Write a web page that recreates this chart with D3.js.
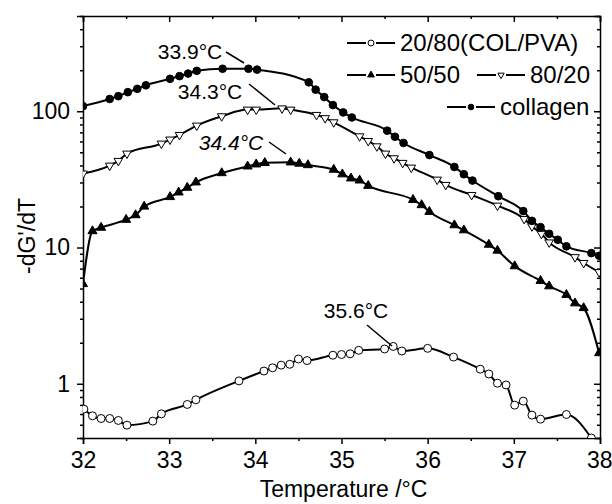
<!DOCTYPE html>
<html>
<head>
<meta charset="utf-8">
<script src="https://cdn.jsdelivr.net/npm/d3@7"></script>
<style>
  body { margin: 0; background: #fff; }
  svg { font-family: "Liberation Sans", Arial, sans-serif; }
  .axis path, .axis line { stroke: #000; stroke-width: 1.5; }
  .axis text { fill: #000; font-size: 23px; }
</style>
</head>
<body>
<div id="chart"></div>
<script>
// -dG'/dT vs temperature, log scale, four blends

const xTicks = [32, 33, 34, 35, 36, 37, 38];
const yTicks = [1, 10, 100];

// collagen (filled circles)
const colT = [32.0, 32.31, 32.41, 32.52, 32.63, 32.73, 33.01, 33.12, 33.22, 33.32, 33.62, 33.92, 34.02,
  34.62, 34.70, 34.80, 34.90, 35.02, 35.12, 35.53, 35.62, 35.72, 36.02, 36.31, 36.42, 36.52, 36.82,
  37.11, 37.21, 37.31, 37.41, 37.51, 37.61, 37.90, 37.99];
const colV = [109, 123, 129, 138, 146, 155, 173, 181, 189, 198, 205, 205, 202,
  163, 144, 127, 111, 98, 90, 72, 65, 58.5, 47.7, 39, 34.5, 31, 23.8,
  18.5, 15.7, 14.1, 12.6, 11.4, 10.2, 9.1, 8.7];

// 80/20 (open down triangles)
const t8020 = [32.0, 32.31, 32.41, 32.51, 32.91, 33.01, 33.12, 33.32, 33.61, 33.91, 34.01, 34.31, 34.41,
  34.71, 34.81, 34.91, 35.21, 35.31, 35.41, 35.51, 35.61, 35.71, 35.81, 36.11, 36.21, 36.51, 36.81,
  37.12, 37.21, 37.32, 37.41, 37.71, 37.81, 37.99];
const v8020 = [34.9, 39.9, 43.2, 48.9, 57.9, 62, 67, 78.5, 91.9, 102.8, 102.8, 105, 102.8,
  94, 89, 83, 65.5, 60.5, 55.3, 48.9, 45.2, 41.8, 38.6, 31.5, 28.8, 24.3, 20.3,
  16.2, 14.3, 12.6, 10.9, 8.5, 7.7, 6.6];

// 50/50 (filled up triangles)
const t5050 = [32.0, 32.11, 32.21, 32.5, 32.61, 32.71, 33.01, 33.11, 33.21, 33.31, 33.61, 33.91, 34.01,
  34.11, 34.41, 34.51, 34.61, 34.91, 35.01, 35.11, 35.21, 35.31, 35.83, 35.93, 36.02, 36.31, 36.42,
  36.71, 36.81, 37.01, 37.31, 37.41, 37.61, 37.71, 37.81, 37.99];
const v5050 = [5.4, 13.2, 14, 16, 17.3, 20, 23.5, 25.4, 27.5, 30.1, 35.2, 39.4, 40.8,
  41.8, 42.2, 41.3, 40.3, 37.3, 34.5, 32.2, 31.1, 28.4, 22.4, 20.5, 18.3, 14.6, 13.4,
  10.5, 9.5, 7.3, 5.7, 5.2, 4.5, 3.9, 3.6, 1.68];

// 20/80 COL/PVA (open circles)
const t2080 = [32.01, 32.11, 32.21, 32.31, 32.41, 32.51, 32.81, 32.91, 33.21, 33.31, 33.81, 34.1, 34.2,
  34.3, 34.4, 34.5, 34.6, 34.9, 35.0, 35.1, 35.2, 35.5, 35.6, 35.7, 36.0, 36.3, 36.61, 36.71, 36.81,
  36.91, 37.01, 37.11, 37.21, 37.31, 37.61, 37.9];
const v2080 = [0.652, 0.582, 0.556, 0.556, 0.538, 0.497, 0.532, 0.602, 0.705, 0.763, 1.05, 1.24, 1.31,
  1.37, 1.39, 1.52, 1.48, 1.62, 1.64, 1.66, 1.76, 1.8, 1.88, 1.74, 1.82, 1.57, 1.28, 1.18, 1.01,
  0.98, 0.697, 0.746, 0.589, 0.55, 0.595, 0.4];

// peak labels
const peakText = ['33.9°C', '34.3°C', '34.4°C', '35.6°C'];

const W = 612, H = 504;
const plot = { left: 83, right: 600, top: 16, bottom: 438 };

const svg = d3.select('#chart').append('svg').attr('width', W).attr('height', H);

const x = d3.scaleLinear().domain([32, 38]).range([plot.left, plot.right]);
const y = d3.scaleLog().domain([0.4, 500]).range([plot.bottom, plot.top]);

// minor tick values
const xMinor = d3.range(32.5, 38, 1);
const yMinor = [];
[0.1, 1, 10, 100].forEach(dec => {
  for (let k = 2; k <= 9; k++) {
    const v = +(k * dec).toFixed(3);
    if (v >= 0.4 && v <= 500) yMinor.push(v);
  }
});

// bottom axis (ticks out)
const xAxisG = svg.append('g').attr('class', 'axis').attr('transform', `translate(0,${plot.bottom})`)
  .call(d3.axisBottom(x).tickValues(xTicks).tickSize(6).tickPadding(8).tickFormat(d3.format('d')));
// last label sits against the page edge
xAxisG.selectAll('.tick text').filter(d => d === 38).attr('text-anchor', 'end').attr('x', 12);
svg.append('g').attr('class', 'axis').attr('transform', `translate(0,${plot.bottom})`)
  .call(d3.axisBottom(x).tickValues(xMinor).tickSize(3).tickFormat(''))
  .select('.domain').remove();
// top axis (ticks in)
svg.append('g').attr('class', 'axis').attr('transform', `translate(0,${plot.top})`)
  .call(d3.axisBottom(x).tickValues(xTicks).tickSize(6).tickFormat(''));
svg.append('g').attr('class', 'axis').attr('transform', `translate(0,${plot.top})`)
  .call(d3.axisBottom(x).tickValues(xMinor).tickSize(3).tickFormat(''))
  .select('.domain').remove();
// left axis (ticks out)
svg.append('g').attr('class', 'axis').attr('transform', `translate(${plot.left},0)`)
  .call(d3.axisLeft(y).tickValues(yTicks).tickSize(6).tickPadding(7).tickFormat(d3.format('d')));
svg.append('g').attr('class', 'axis').attr('transform', `translate(${plot.left},0)`)
  .call(d3.axisLeft(y).tickValues(yMinor).tickSize(3).tickFormat(''))
  .select('.domain').remove();
// right axis (ticks in)
svg.append('g').attr('class', 'axis').attr('transform', `translate(${plot.right},0)`)
  .call(d3.axisLeft(y).tickValues(yTicks).tickSize(6).tickFormat(''));
svg.append('g').attr('class', 'axis').attr('transform', `translate(${plot.right},0)`)
  .call(d3.axisLeft(y).tickValues(yMinor).tickSize(3).tickFormat(''))
  .select('.domain').remove();

svg.selectAll('.domain').attr('stroke-width', 1.8);

// axis titles
svg.append('text').attr('x', (plot.left + plot.right) / 2 + 2).attr('y', 497)
  .attr('text-anchor', 'middle').attr('font-size', 23).text('Temperature /°C');
svg.append('text').attr('transform', `translate(35,236) rotate(-90)`)
  .attr('text-anchor', 'middle').attr('font-size', 23).text("-dG'/dT");

// clip for curves
svg.append('clipPath').attr('id', 'clip').append('rect')
  .attr('x', plot.left).attr('y', plot.top)
  .attr('width', plot.right - plot.left).attr('height', plot.bottom - plot.top);

const series = [
  { t: t2080, v: v2080, shape: d3.symbolCircle, size: 50, fill: '#fff', rot: 0 },
  { t: t5050, v: v5050, shape: d3.symbolTriangle, size: 36, fill: '#000', rot: 0 },
  { t: t8020, v: v8020, shape: d3.symbolTriangle, size: 32, fill: '#fff', rot: 180 },
  { t: colT, v: colV, shape: d3.symbolCircle, size: 46, fill: '#000', rot: 0 }
];

const line = d3.line().x(d => x(d[0])).y(d => y(d[1])).curve(d3.curveMonotoneX);

series.forEach(s => {
  const pts = s.t.map((t, i) => [t, s.v[i]]);
  const g = svg.append('g').attr('clip-path', 'url(#clip)');
  g.append('path').datum(pts).attr('d', line)
    .attr('fill', 'none').attr('stroke', '#000').attr('stroke-width', 2);
  g.selectAll('path.pt').data(pts).enter().append('path').attr('class', 'pt')
    .attr('d', d3.symbol().type(s.shape).size(s.size))
    .attr('transform', d => `translate(${x(d[0])},${y(d[1])}) rotate(${s.rot})`)
    .attr('fill', s.fill).attr('stroke', '#000').attr('stroke-width', 1);
});

// peak annotations: text centre and leader line end points
const notes = [
  { tx: 190, ty: 52, italic: false, l: [226, 52, 244, 63] },
  { tx: 210, ty: 92, italic: false, l: [249, 84, 275, 105] },
  { tx: 231, ty: 143, italic: true, l: [269, 142, 286, 154] },
  { tx: 356, ty: 311, italic: false, l: [367, 325, 392, 346] }
];
notes.forEach((n, i) => {
  svg.append('text').attr('x', n.tx).attr('y', n.ty).attr('dy', '0.35em')
    .attr('text-anchor', 'middle').attr('font-size', 21)
    .attr('font-style', n.italic ? 'italic' : 'normal').text(peakText[i]);
  svg.append('line').attr('x1', n.l[0]).attr('y1', n.l[1]).attr('x2', n.l[2]).attr('y2', n.l[3])
    .attr('stroke', '#000').attr('stroke-width', 1.5);
});

// legend
const legendItems = [
  { name: '20/80(COL/PVA)', s: 0, lx: 347, ly: 43 },
  { name: '50/50', s: 1, lx: 347, ly: 75 },
  { name: '80/20', s: 2, lx: 477, ly: 75 },
  { name: 'collagen', s: 3, lx: 447, ly: 107 }
];
legendItems.forEach(it => {
  const s = series[it.s];
  const g = svg.append('g').attr('transform', `translate(${it.lx},${it.ly})`);
  g.append('line').attr('x1', 0).attr('x2', 19).attr('stroke', '#000').attr('stroke-width', 2);
  g.append('line').attr('x1', 29).attr('x2', 48).attr('stroke', '#000').attr('stroke-width', 2);
  g.append('path').attr('d', d3.symbol().type(s.shape).size(s.size * 0.55))
    .attr('transform', `translate(24,0) rotate(${s.rot})`)
    .attr('fill', s.fill).attr('stroke', '#000').attr('stroke-width', 1);
  g.append('text').attr('x', 53).attr('dy', '0.35em').attr('font-size', 24).text(it.name);
});
</script>
</body>
</html>
